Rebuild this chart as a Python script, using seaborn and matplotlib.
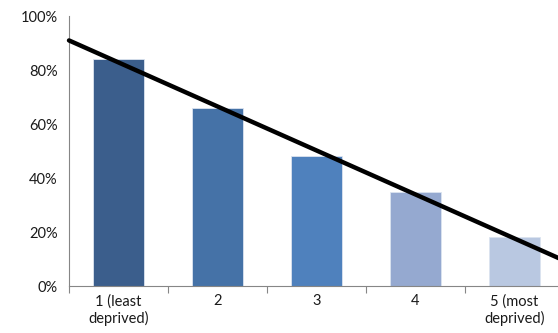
import numpy as np
import pandas as pd
import seaborn as sns
import matplotlib.pyplot as plt

# data
categories = ["1 (least\ndeprived)", "2", "3", "4", "5 (most\ndeprived)"]
values = [84, 66, 48, 35, 18]
colors = ["#3B5E8C", "#4572A7", "#4F81BD", "#95A9D0", "#B9C8E1"]
y_ticks = [0, 20, 40, 60, 80, 100]

df = pd.DataFrame({"group": categories, "pct": values})

sns.set_style("white")
plt.rcParams["font.family"] = ["Lato", "DejaVu Sans"]

fig = plt.figure(figsize=(5.58, 3.33), dpi=100)
ax = fig.add_axes([69 / 558, 47 / 333, 495 / 558, 270 / 333])

sns.barplot(data=df, x="group", y="pct", hue="group", palette=colors,
            saturation=1, legend=False, width=0.51, ax=ax,
            edgecolor="#DCE4F0", linewidth=0.6)

# linear trend line across the plot
xs = np.arange(len(values))
slope, intercept = np.polyfit(xs, values, 1)
xl = np.array([-0.5, 4.5])
ax.plot(xl, slope * xl + intercept, color="black", lw=3.2, clip_on=False, zorder=5)

ax.set_xlim(-0.5, 4.5)
ax.set_ylim(0, 100)
ax.set_yticks(y_ticks)
ax.set_yticklabels([f"{t}%" for t in y_ticks])
ax.set_xlabel("")
ax.set_ylabel("")

# tick marks sit between categories, labels centred under bars
ax.set_xticks(np.arange(-0.5, 5, 1), minor=False)
ax.set_xticklabels([""] * 6)
ax.set_xticks(xs, minor=True)
ax.set_xticklabels(categories, minor=True)
ax.tick_params(axis="x", which="major", length=5, color="#868686", direction="out", bottom=True)
ax.tick_params(axis="x", which="minor", length=0, pad=6, labelsize=10.5, colors="#1a1a1a")
ax.tick_params(axis="y", length=0, pad=8, labelsize=10.5, colors="#1a1a1a")

for s in ["top", "right"]:
    ax.spines[s].set_visible(False)
for s in ["left", "bottom"]:
    ax.spines[s].set_color("#868686")
    ax.spines[s].set_linewidth(0.8)

fig.savefig("out.png", dpi=100)
